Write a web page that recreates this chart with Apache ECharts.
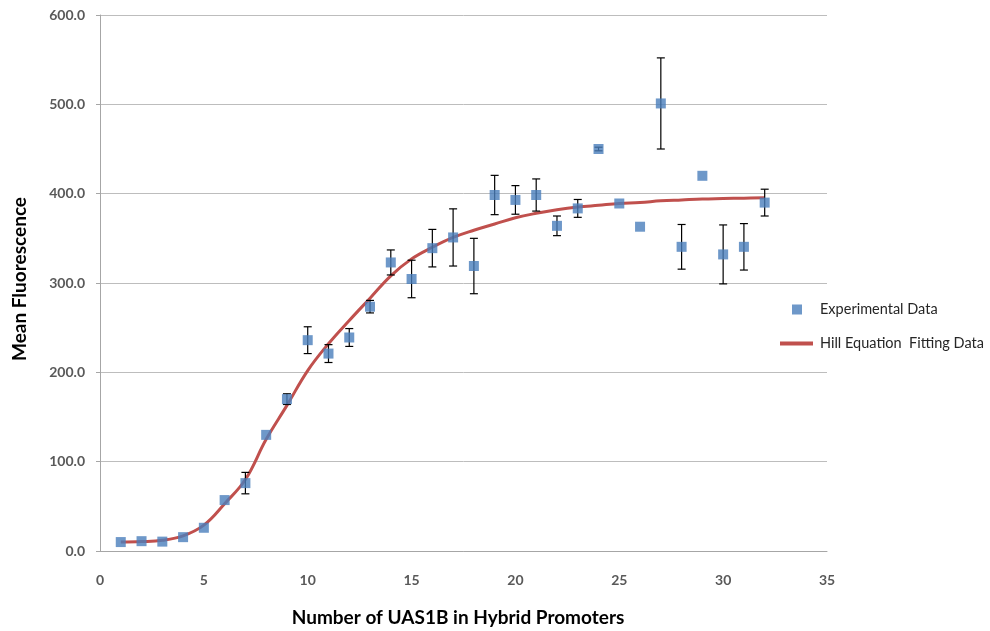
<!DOCTYPE html>
<html>
<head>
<meta charset="utf-8">
<script src="https://cdn.jsdelivr.net/npm/echarts@6/dist/echarts.min.js"></script>
<style>html,body{margin:0;padding:0;background:#fff;}#c{width:990px;height:631px;}</style>
</head>
<body>
<div id="c"></div>
<script>
// Data
var xValues = [1,2,3,4,5,6,7,8,9,10,11,12,13,14,15,16,17,18,19,20,21,22,23,24,25,26,27,28,29,30,31,32];
var experimental = [10,11,10.5,15.5,26,57,76,130,170,236,221,239,273.5,323,304.5,339,351,319,398.5,393,398.5,364,383.5,450,389,363,501,340.5,420,332,340.5,390];
var errors = [0,0,0,0,0,0,12,0,6,15,10,10,7,14,21,21,32,31,22,16,18,11,10,2,0,0,51,25,0,33,26,15];
var hillFit = [10,10.5,12,17,29,53,80,125,163,202,232,258,283,308,327,340,351,359,366,373,378,382,385,387,389,390,392,393,394,394.5,395,395.5];
var yTicks = [0,100,200,300,400,500,600];
var xTicks = [0,5,10,15,20,25,30,35];
var expName = 'Experimental Data';
var fitName = 'Hill Equation  Fitting Data';
var xTitle = 'Number of UAS1B in Hybrid Promoters';
var yTitle = 'Mean Fluorescence';

var scatterData = xValues.map(function(x,i){return [x, experimental[i]];});
var errorData = xValues.map(function(x,i){return [x, experimental[i]-errors[i], experimental[i]+errors[i]];}).filter(function(d){return d[2]-d[1] > 0;});
var fitData = xValues.map(function(x,i){return [x, hillFit[i]];});

var font = 'Lato, "Open Sans", sans-serif';
var chart = echarts.init(document.getElementById('c'), null, {renderer:'canvas'});
chart.setOption({
  animation: false,
  backgroundColor: '#fff',
  grid: {left: 100, right: 163, top: 15, bottom: 80, containLabel: false},
  xAxis: {
    type: 'value', min: xTicks[0], max: xTicks[xTicks.length-1], interval: 5,
    axisLine: {show: true, lineStyle: {color: '#a6a6a6', width: 1}},
    axisTick: {show: false},
    splitLine: {show: false},
    axisLabel: {fontFamily: font, fontSize: 14, fontWeight: 'bold', color: '#595959', margin: 22}
  },
  yAxis: {
    type: 'value', min: yTicks[0], max: yTicks[yTicks.length-1], interval: 100,
    axisLine: {show: true, lineStyle: {color: '#a6a6a6', width: 1}},
    axisTick: {show: true, length: 4, lineStyle: {color: '#a6a6a6'}},
    splitLine: {show: true, lineStyle: {color: '#bdbdbd', width: 1}},
    axisLabel: {fontFamily: font, fontSize: 14, fontWeight: 'bold', color: '#595959', margin: 15,
      formatter: function(v){return v.toFixed(1);}}
  },
  graphic: [
    {type: 'text', x: 458, y: 618,
     style: {text: xTitle, align: 'center', verticalAlign: 'middle',
       fontFamily: font, fontWeight: 'bold', fontSize: 19, fill: '#000'}},
    {type: 'text', x: 20, y: 279, rotation: Math.PI/2,
     style: {text: yTitle, align: 'center', verticalAlign: 'middle',
       fontFamily: font, fontWeight: 'bold', fontSize: 19, fill: '#000'}}
  ],
  legend: [
    {data: [expName], orient: 'vertical', left: 787, top: 297, itemWidth: 10, itemHeight: 10,
     icon: 'rect', textStyle: {fontFamily: font, fontSize: 14.5, color: '#262626', padding: [0,0,0,13]}},
    {data: [{name: fitName, icon: 'rect'}], orient: 'vertical', left: 775, top: 331, itemWidth: 33, itemHeight: 4,
     textStyle: {fontFamily: font, fontSize: 14.5, color: '#262626', padding: [0,0,0,2]}}
  ],
  series: [
    {
      name: fitName, type: 'line', data: fitData, smooth: 0.4, showSymbol: false, symbol: 'none',
      lineStyle: {color: '#c0504d', width: 3}, itemStyle: {color: '#c0504d'}, z: 2
    },
    {
      name: 'err', type: 'custom', data: errorData, z: 3, silent: true,
      renderItem: function(params, api){
        var x = api.value(0);
        var lo = api.coord([x, api.value(1)]);
        var hi = api.coord([x, api.value(2)]);
        var w = 4;
        var st = {stroke: '#000', lineWidth: 1.2};
        return {type: 'group', children: [
          {type: 'line', shape: {x1: lo[0], y1: lo[1], x2: hi[0], y2: hi[1]}, style: st},
          {type: 'line', shape: {x1: lo[0]-w, y1: lo[1], x2: lo[0]+w, y2: lo[1]}, style: st},
          {type: 'line', shape: {x1: hi[0]-w, y1: hi[1], x2: hi[0]+w, y2: hi[1]}, style: st}
        ]};
      },
      encode: {x: 0, y: [1,2]}
    },
    {
      name: expName, type: 'scatter', data: scatterData, symbol: 'rect', symbolSize: 10,
      itemStyle: {color: '#4a7ebb'}, z: 4
    }
  ]
});
</script>
</body>
</html>
